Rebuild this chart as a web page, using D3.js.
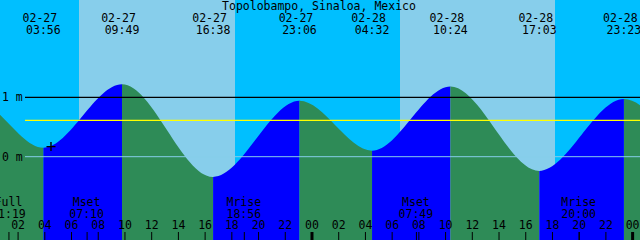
<!DOCTYPE html>
<html lang="en">

<head>
    <meta charset="UTF-8">
    <title>Topolobampo tides</title>
    <script src="https://d3js.org/d3.v7.min.js"></script>
    <style>
        body { margin: 0; }
        svg { display: block; }
        text { font-family: "DejaVu Sans Mono", monospace; font-size: 11.5px; fill: #000; }
    </style>
</head>

<body>

    <svg></svg>

    <script>

        // Chart values (hours counted from 02-27 00:00)
        const title = "Topolobampo, Sinaloa, Mexico";
        const viewStart = 0.684, viewEnd = 48.59;

        // tide extremes: the first two and last two are off the chart (estimated)
        const tideDates = ["02-26", "02-26", "02-27", "02-27", "02-27", "02-27", "02-28", "02-28", "02-28", "02-28", "03-01", "03-01"];
        const tideTimes = ["16:15", "22:48", "03:56", "09:49", "16:38", "23:06", "04:32", "10:24", "17:03", "23:23", "05:05", "11:00"];
        const tideHeights = [-0.30, 0.95, 0.15, 1.22, -0.34, 0.94, 0.10, 1.18, -0.24, 0.97, 0.08, 1.15];

        // daylight (sunrise, sunset)
        const sunrise = [6.62, 30.62];
        const sunset = [18.27, 42.23];

        // moon events
        const moonLabels = ["Full", "Mset", "Mrise", "Mset", "Mrise"];
        const moonDates = ["02-27", "02-27", "02-27", "02-28", "02-28"];
        const moonTimes = ["01:19", "07:10", "18:56", "07:49", "20:00"];

        const levelTicks = [0, 1];
        const meanLevel = 0.61;
        const markTime = 4.5, markHeight = 0.17;

        const dayOffset = { "02-26": -24, "02-27": 0, "02-28": 24, "03-01": 48 };
        const toHours = (d, t) => dayOffset[d] + (+t.slice(0, 2)) + (+t.slice(3)) / 60;

        const tides = tideDates.map((d, i) => ({
            date: d, time: tideTimes[i], h: toHours(d, tideTimes[i]), level: tideHeights[i]
        }));

        const width = 640, height = 240;

        const svg = d3.select("svg")
            .attr("width", width)
            .attr("height", height);

        const x = d3.scaleLinear().domain([viewStart, viewEnd]).range([0, width]);
        const y = d3.scaleLinear().domain([0, 1]).range([156.7, 97.3]);

        // night background + daylight bands
        svg.append("rect")
            .attr("width", width).attr("height", height)
            .attr("fill", "#00bfff");

        svg.selectAll("rect.day")
            .data(sunrise)
            .enter()
            .append("rect")
            .attr("class", "day")
            .attr("x", (d, i) => Math.round(x(d)))
            .attr("width", (d, i) => Math.round(x(sunset[i])) - Math.round(x(d)))
            .attr("y", 0)
            .attr("height", height)
            .attr("fill", "#87ceeb");

        // tide area, blue when rising, green when falling
        const area = d3.area()
            .x(d => x(d.h))
            .y0(height)
            .y1(d => y(d.level))
            .curve(d3.curveMonotoneX);

        const defs = svg.append("defs");
        tides.slice(0, -1).forEach((d, i) => {
            const next = tides[i + 1];
            defs.append("clipPath")
                .attr("id", "seg" + i)
                .append("rect")
                .attr("x", x(d.h))
                .attr("width", x(next.h) - x(d.h))
                .attr("y", 0)
                .attr("height", height);

            svg.append("path")
                .datum(tides)
                .attr("clip-path", `url(#seg${i})`)
                .attr("d", area)
                .attr("fill", next.level > d.level ? "#0000ff" : "#2e8b57");
        });

        // level lines
        svg.append("line")
            .attr("x1", 25).attr("x2", width)
            .attr("y1", y(0)).attr("y2", y(0))
            .attr("stroke", "#87ceeb").attr("stroke-width", 1);

        svg.append("line")
            .attr("x1", 25).attr("x2", width)
            .attr("y1", y(meanLevel)).attr("y2", y(meanLevel))
            .attr("stroke", "#ffff00").attr("stroke-width", 1.3);

        svg.append("line")
            .attr("x1", 25).attr("x2", width)
            .attr("y1", y(1)).attr("y2", y(1))
            .attr("stroke", "#000").attr("stroke-width", 1.3);

        svg.selectAll("text.level")
            .data(levelTicks)
            .enter()
            .append("text")
            .attr("class", "level")
            .attr("x", 2)
            .attr("y", d => y(d) + 4)
            .text(d => d + " m");

        // mark on the curve
        const mx = x(markTime), my = y(markHeight);
        svg.append("path")
            .attr("d", `M${mx - 4.5},${my}H${mx + 4.5}M${mx},${my - 4.5}V${my + 4.5}`)
            .attr("stroke", "#000").attr("stroke-width", 1.4);

        // title and tide event labels
        svg.append("text")
            .attr("x", 319).attr("y", 10)
            .attr("text-anchor", "middle")
            .text(title);

        const shown = tides.filter(d => d.h >= viewStart && d.h <= viewEnd);

        svg.selectAll("text.tdate")
            .data(shown)
            .enter()
            .append("text")
            .attr("x", d => x(d.h) - 3.5)
            .attr("y", 21.5)
            .attr("text-anchor", "middle")
            .text(d => d.date);

        svg.selectAll("text.ttime")
            .data(shown)
            .enter()
            .append("text")
            .attr("x", d => x(d.h))
            .attr("y", 34)
            .attr("text-anchor", "middle")
            .text(d => d.time);

        // hour axis along the bottom
        const hourTicks = d3.range(2, 49, 2);
        const hourAxis = svg.append("g")
            .attr("transform", `translate(0, ${height})`)
            .call(d3.axisTop(x)
                .tickValues(hourTicks)
                .tickSize(8)
                .tickPadding(3)
                .tickFormat(h => String(h % 24).padStart(2, "0")));

        hourAxis.select(".domain").remove();
        hourAxis.selectAll("line")
            .attr("stroke", "#000")
            .attr("stroke-width", h => h % 24 === 0 ? 3 : 1);
        hourAxis.selectAll("text")
            .attr("fill", "#000")
            .style("font-size", "11.5px")
            .style("font-family", "\"DejaVu Sans Mono\", monospace");

        // moon events
        const moon = moonLabels.map((m, i) => ({
            label: m, time: moonTimes[i], h: toHours(moonDates[i], moonTimes[i])
        }));

        const moonAxis = svg.append("g")
            .attr("transform", `translate(0, ${height})`)
            .call(d3.axisTop(x)
                .tickValues(moon.map(d => d.h))
                .tickSize(8)
                .tickFormat(""));
        moonAxis.select(".domain").remove();
        moonAxis.selectAll("line").attr("stroke", "#000");

        svg.selectAll("text.mlabel")
            .data(moon)
            .enter()
            .append("text")
            .attr("x", d => x(d.h))
            .attr("y", 205.5)
            .attr("text-anchor", "middle")
            .text(d => d.label);

        svg.selectAll("text.mtime")
            .data(moon)
            .enter()
            .append("text")
            .attr("x", d => x(d.h))
            .attr("y", 217.5)
            .attr("text-anchor", "middle")
            .text(d => d.time);

    </script>

</body>

</html>
